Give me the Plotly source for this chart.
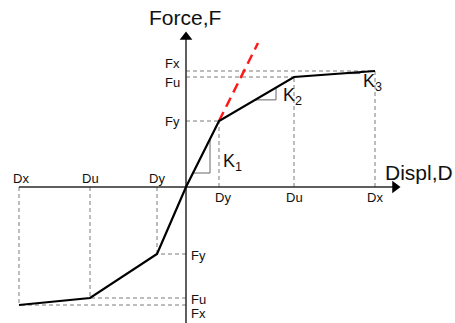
import plotly.graph_objects as go

# Idealised force-displacement backbone (tri-linear), positive and negative branches
pos_disp = [0.0, 3.3, 10.8, 18.9]     # origin, Dy, Du, Dx
pos_force = [0.0, 6.6, 11.0, 11.6]    # origin, Fy, Fu, Fx
neg_disp = [0.0, -2.9, -9.6, -16.7]
neg_force = [0.0, -6.7, -11.1, -11.8]

disp_labels = ["Dy", "Du", "Dx"]
force_labels = ["Fy", "Fu", "Fx"]
stiffness_labels = ["K<sub>1</sub>", "K<sub>2</sub>", "K<sub>3</sub>"]

# elastic-stiffness extension (red dashed) reaches this force level
k1_extension_force = 14.4

FONT = "Liberation Sans, Arial, sans-serif"
DASH_GREY = "#7a7a7a"
AXIS = "#2a2a2a"

fig = go.Figure()


def line(xs, ys, color, width, dash="solid"):
    fig.add_trace(go.Scatter(x=xs, y=ys, mode="lines",
                             line=dict(color=color, width=width, dash=dash),
                             hoverinfo="skip", showlegend=False))


# guide lines from each corner point to both axes
for d, f in zip(pos_disp[1:], pos_force[1:]):
    line([d, d], [0, f], DASH_GREY, 1, "4px,3px")
    line([0, d], [f, f], DASH_GREY, 1, "4px,3px")
for d, f in zip(neg_disp[1:], neg_force[1:]):
    line([d, d], [0, f], DASH_GREY, 1, "4px,3px")
    line([0, d], [f, f], DASH_GREY, 1, "4px,3px")

# axes
x_end = 20.9
y_end = 15.0
line([neg_disp[-1], x_end], [0, 0], AXIS, 1.5)
line([0, 0], [-14.0, y_end], AXIS, 1.5)
fig.add_trace(go.Scatter(x=[x_end], y=[0], mode="markers",
                         marker=dict(symbol="triangle-right", size=11, color="black"),
                         hoverinfo="skip", showlegend=False))
fig.add_trace(go.Scatter(x=[0], y=[y_end], mode="markers",
                         marker=dict(symbol="triangle-up", size=11, color="black"),
                         hoverinfo="skip", showlegend=False))

# slope triangles
slopes = []
for i in range(3):
    x0, x1 = pos_disp[i], pos_disp[i + 1]
    y0, y1 = pos_force[i], pos_force[i + 1]
    slopes.append((y1 - y0) / (x1 - x0))

tri_spans = [(0.7, 2.4), (6.9, 9.0), (15.4, 17.4)]
for i, (a, b) in enumerate(tri_spans):
    base = pos_force[i] + slopes[i] * (a - pos_disp[i])
    top = pos_force[i] + slopes[i] * (b - pos_disp[i])
    line([a, b, b], [base, base, top], "#666666", 1)

# extension of the elastic branch
k1_ext_disp = pos_disp[1] * k1_extension_force / pos_force[1]
line([pos_disp[1], k1_ext_disp], [pos_force[1], k1_extension_force], "#ff1a1a", 2.5, "10px,6px")

# backbone curve
line(neg_disp[::-1] + pos_disp[1:], neg_force[::-1] + pos_force[1:], "black", 2.2)


def text(x, y, s, size=13, xanchor="center", yanchor="middle", xshift=0, yshift=0):
    fig.add_annotation(x=x, y=y, text=s, showarrow=False, xanchor=xanchor, yanchor=yanchor,
                       xshift=xshift, yshift=yshift,
                       font=dict(family=FONT, size=size, color="#111111"))


# axis titles
text(-3.95, 17.0, "Force,F", size=21, xanchor="left")
text(19.7, 1.5, "Displ,D", size=21, xanchor="left")

# displacement labels
for d, s in zip(pos_disp[1:], disp_labels):
    text(d, 0, s, xshift=4 if s == "Dy" else 0, yshift=-10)
for d, s in zip(neg_disp[1:], disp_labels):
    text(d, 0, s, xshift=2 if s == "Dx" else 0, yshift=9)

# force labels
left_shift = {"Fy": 0, "Fu": -5, "Fx": 8}
for f, s in zip(pos_force[1:], force_labels):
    text(0, f, s, xanchor="right", xshift=-4, yshift=left_shift[s])
right_shift = {"Fy": -1, "Fu": -1, "Fx": -8}
for f, s in zip(neg_force[1:], force_labels):
    text(0, f, s, xanchor="left", xshift=3, yshift=right_shift[s])

# stiffness labels
k_pos = [(3.5, 2.5), (9.5, 9.1), (17.5, 10.5)]
for (x, y), s in zip(k_pos, stiffness_labels):
    text(x, y, s, size=18, xanchor="left")

fig.update_layout(
    width=455, height=323,
    margin=dict(l=0, r=0, t=0, b=0),
    paper_bgcolor="white", plot_bgcolor="white",
    xaxis=dict(range=[-18.6, 26.9], visible=False, fixedrange=True),
    yaxis=dict(range=[-13.6, 18.7], visible=False, fixedrange=True),
)

fig.write_html("out.html")
